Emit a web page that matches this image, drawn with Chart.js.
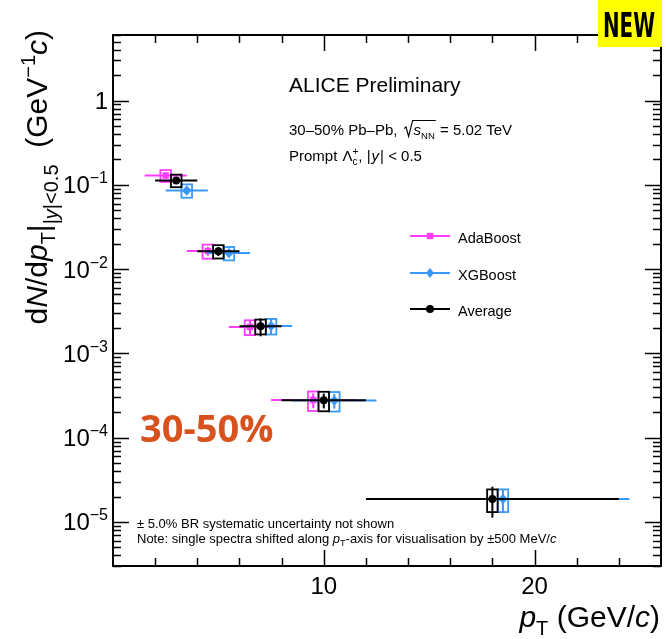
<!DOCTYPE html>
<html>
<head>
<meta charset="utf-8">
<script src="https://cdn.jsdelivr.net/npm/chart.js@4"></script>
<style>
  html, body { margin: 0; padding: 0; background: #fff; }
  canvas { display: block; }
</style>
</head>
<body>
<canvas id="spectre" width="666" height="639"></canvas>
<script>
// bins en pT (GeV/c)
const binLow = [2, 4, 6, 8, 12];
const binHigh = [4, 6, 8, 12, 24];

// dN/dpT
const adaBoost = [0.129, 0.0164, 0.00206, 2.80e-4, null];
const xgBoost = [0.0858, 0.0155, 0.00212, 2.76e-4, 1.87e-5];
const average = [0.113, 0.0163, 0.0021, 2.78e-4, 1.87e-5];

// incertitudes relatives (syst. = boites, stat. = barres)
const adaSys = [0.16, 0.19, 0.20, 0.26, null];
const xgbSys = [0.18, 0.18, 0.21, 0.26, 0.30];
const avgSys = [0.17, 0.18, 0.20, 0.26, 0.30];
const adaStat = [0.09, 0.12, 0.20, 0.20, null];
const xgbStat = [0.12, 0.12, 0.22, 0.20, 0.32];
const avgStat = [0.09, 0.12, 0.24, 0.20, 0.40];

const seriesNames = ['AdaBoost', 'XGBoost', 'Average'];
const ptShifts = [-0.5, 0.5, 0];

const xMajorTicks = [10, 20];
const xTickLabels = ['10', '20'];
const yMajorTicks = [1, 1e-1, 1e-2, 1e-3, 1e-4, 1e-5];
const yTickExponents = ['', '\u22121', '\u22122', '\u22123', '\u22124', '\u22125'];

const couleurs = ['#ff3cff', '#3899fb', '#000000'];

function fnt(size, style) {
  return (style || '') + ' ' + size + 'px "Liberation Sans", Arial, sans-serif';
}

function drawRuns(ctx, x, y, runs, align) {
  let w = 0;
  for (const r of runs) {
    ctx.font = fnt(r.s, r.f);
    if (!r.stack) w += ctx.measureText(r.t).width + (r.gap || 0);
  }
  let cx = align === 'right' ? x - w : (align === 'center' ? x - w / 2 : x);
  ctx.textAlign = 'left';
  ctx.textBaseline = 'alphabetic';
  for (const r of runs) {
    ctx.font = fnt(r.s, r.f);
    ctx.fillText(r.t, cx, y + (r.dy || 0));
    if (!r.stack) cx += ctx.measureText(r.t).width + (r.gap || 0);
  }
  return cx;
}

function points(vals, shift) {
  const pts = [];
  vals.forEach((v, i) => {
    if (v != null) pts.push({ x: (binLow[i] + binHigh[i]) / 2 + shift, y: v });
  });
  return pts;
}

function marqueur(ctx, style, x, y, r, col) {
  ctx.fillStyle = col;
  ctx.beginPath();
  if (style === 'rect') {
    const s = r * Math.SQRT1_2;
    ctx.rect(x - s, y - s, 2 * s, 2 * s);
  } else if (style === 'rectRot') {
    ctx.moveTo(x, y - r); ctx.lineTo(x + r * 0.8, y); ctx.lineTo(x, y + r); ctx.lineTo(x - r * 0.8, y);
    ctx.closePath();
  } else {
    ctx.arc(x, y, r, 0, Math.PI * 2);
  }
  ctx.fill();
}

const erreurs = {
  id: 'erreurs',
  beforeDatasetDraw(chart, args) {
    const ds = chart.data.datasets[args.index];
    const ctx = chart.ctx, xs = chart.scales.x, ys = chart.scales.y, a = chart.chartArea;
    ctx.save();
    ctx.beginPath();
    ctx.rect(a.left, a.top, a.right - a.left, a.bottom - a.top);
    ctx.clip();
    ctx.strokeStyle = ds.borderColor;
    ds.vals.forEach((v, i) => {
      if (v == null) return;
      const c = (binLow[i] + binHigh[i]) / 2 + ds.shift;
      const py = ys.getPixelForValue(v);
      const px = xs.getPixelForValue(c);
      // largeur du bin
      ctx.lineWidth = 2;
      ctx.beginPath();
      ctx.moveTo(xs.getPixelForValue(binLow[i] + ds.shift), py);
      ctx.lineTo(xs.getPixelForValue(binHigh[i] + ds.shift), py);
      ctx.stroke();
      // stat
      ctx.beginPath();
      ctx.moveTo(px, ys.getPixelForValue(v * (1 + ds.stat[i])));
      ctx.lineTo(px, ys.getPixelForValue(v * (1 - ds.stat[i])));
      ctx.stroke();
      // syst
      const x0 = xs.getPixelForValue(c - 0.25), x1 = xs.getPixelForValue(c + 0.25);
      const y0 = ys.getPixelForValue(v * (1 + ds.sys[i])), y1 = ys.getPixelForValue(v * (1 - ds.sys[i]));
      ctx.lineWidth = 1.8;
      ctx.strokeRect(x0, y0, x1 - x0, y1 - y0);
    });
    ctx.restore();
  },
  afterDraw(chart) {
    const ctx = chart.ctx, xs = chart.scales.x, ys = chart.scales.y, a = chart.chartArea;
    ctx.save();
    ctx.fillStyle = '#000';
    ctx.strokeStyle = '#000';

    // ticks x (bas et haut)
    ctx.lineWidth = 1.5;
    for (let v = 2; v < xs.max; v += 2) {
      const px = Math.round(xs.getPixelForValue(v)) + 0.5;
      const len = v % 10 === 0 ? 16 : 8;
      ctx.beginPath();
      ctx.moveTo(px, a.bottom); ctx.lineTo(px, a.bottom - len);
      ctx.moveTo(px, a.top); ctx.lineTo(px, a.top + len);
      ctx.stroke();
    }
    // ticks y log (gauche et droite)
    for (let e = -6; e <= 0; e++) {
      for (let k = 1; k <= 9; k++) {
        const v = k * Math.pow(10, e);
        if (v < ys.min || v > ys.max) continue;
        const py = Math.round(ys.getPixelForValue(v)) + 0.5;
        const len = k === 1 ? 16 : 8;
        ctx.beginPath();
        ctx.moveTo(a.left, py); ctx.lineTo(a.left + len, py);
        ctx.moveTo(a.right, py); ctx.lineTo(a.right - len, py);
        ctx.stroke();
      }
    }
    // cadre
    ctx.lineWidth = 2;
    ctx.strokeRect(a.left, a.top, a.right - a.left, a.bottom - a.top);

    // labels x
    ctx.font = fnt(24);
    ctx.textAlign = 'center';
    xMajorTicks.forEach((v, i) => ctx.fillText(xTickLabels[i], xs.getPixelForValue(v), 594));
    // labels y
    yMajorTicks.forEach((v, i) => {
      const py = ys.getPixelForValue(v);
      if (yTickExponents[i] === '') {
        drawRuns(ctx, 108, py + 8.5, [{ t: '1', s: 24 }], 'right');
      } else {
        drawRuns(ctx, 108, py + 8.5, [{ t: '10', s: 24 }, { t: yTickExponents[i], s: 16, dy: -10 }], 'right');
      }
    });

    // titre x
    drawRuns(ctx, 660, 627, [
      { t: 'p', s: 30, f: 'italic' }, { t: 'T', s: 20, dy: 8 },
      { t: ' (GeV/', s: 30 }, { t: 'c', s: 30, f: 'italic' }, { t: ')', s: 30 }
    ], 'right');

    // titre y
    ctx.save();
    ctx.translate(47, 0);
    ctx.rotate(-Math.PI / 2);
    drawRuns(ctx, -30, 0, [
      { t: 'd', s: 30 }, { t: 'N', s: 30, f: 'italic' }, { t: '/d', s: 30 }, { t: 'p', s: 30, f: 'italic' },
      { t: 'T', s: 20, dy: 8 }, { t: '|', s: 30, dy: 2 },
      { t: '|', s: 20, dy: 11 }, { t: 'y', s: 20, f: 'italic', dy: 11 }, { t: '|<0.5', s: 20, dy: 11 },
      { t: '  (GeV', s: 30 }, { t: '\u22121', s: 20, dy: -12 }, { t: 'c', s: 30, f: 'italic' }, { t: ')', s: 30 }
    ], 'right');
    ctx.restore();

    // textes
    drawRuns(ctx, 289, 91.5, [{ t: 'ALICE Preliminary', s: 21 }], 'left');
    const yb = 134.5;
    const rad = drawRuns(ctx, 289, yb, [{ t: '30\u201350% Pb\u2013Pb, ', s: 15, gap: 2 }], 'left');
    const fin = drawRuns(ctx, rad + 10, yb, [{ t: 's', s: 15, f: 'italic' }, { t: 'NN', s: 9.5, dy: 4 }], 'left');
    ctx.lineWidth = 1.1;
    ctx.beginPath();
    ctx.moveTo(rad + 0.5, yb - 6); ctx.lineTo(rad + 2.5, yb - 7.5); ctx.lineTo(rad + 5, yb + 2);
    ctx.lineTo(rad + 9, yb - 14); ctx.lineTo(fin + 1, yb - 14);
    ctx.stroke();
    drawRuns(ctx, fin + 1, yb, [{ t: ' = 5.02 TeV', s: 15 }], 'left');

    drawRuns(ctx, 289, 160.7, [
      { t: 'Prompt ', s: 15, gap: 1 }, { t: '\u039B', s: 15 }, { t: 'c', s: 10, dy: 4, stack: true }, { t: '+', s: 10, dy: -6 },
      { t: ', |', s: 15, gap: 1 }, { t: 'y', s: 15, f: 'italic', gap: 1 }, { t: '| < 0.5', s: 15 }
    ], 'left');

    drawRuns(ctx, 137, 528, [{ t: '\u00B1 5.0% BR systematic uncertainty not shown', s: 13 }], 'left');
    drawRuns(ctx, 137, 543, [
      { t: 'Note: single spectra shifted along ', s: 13 }, { t: 'p', s: 13, f: 'italic' }, { t: 'T', s: 9, dy: 3 },
      { t: '-axis for visualisation by \u00B1500 MeV/', s: 13 }, { t: 'c', s: 13, f: 'italic' }
    ], 'left');

    // légende
    const legY = [236, 273, 309];
    chart.data.datasets.forEach((ds, i) => {
      ctx.strokeStyle = ds.borderColor;
      ctx.lineWidth = 2;
      ctx.beginPath();
      ctx.moveTo(410, legY[i]); ctx.lineTo(450, legY[i]);
      ctx.stroke();
      marqueur(ctx, ds.pointStyle, 430, legY[i], ds.pointRadius, ds.borderColor);
      ctx.fillStyle = '#000';
      drawRuns(ctx, 458, legY[i] + 6.5, [{ t: ds.label, s: 14.5 }], 'left');
    });

    // centralité
    ctx.fillStyle = '#d8521d';
    ctx.font = 'bold 38px "Open Sans", "Liberation Sans", sans-serif';
    ctx.textAlign = 'left';
    ctx.fillText('30-50%', 140, 442);

    // NEW
    ctx.fillStyle = '#ffff00';
    ctx.fillRect(598, 0, 64, 47);
    ctx.fillStyle = '#000';
    ctx.font = 'bold 34px "DejaVu Sans", sans-serif';
    const wNew = ctx.measureText('NEW').width;
    ctx.save();
    ctx.translate(629, 37);
    ctx.scale(52 / wNew, 1);
    ctx.textAlign = 'center';
    ctx.fillText('NEW', 0, 0);
    ctx.restore();

    ctx.restore();
  }
};

const styles = ['rect', 'rectRot', 'circle'];
const rayons = [4.5, 5, 4];
const valeurs = [adaBoost, xgBoost, average];
const sysAll = [adaSys, xgbSys, avgSys];
const statAll = [adaStat, xgbStat, avgStat];

const datasets = seriesNames.map((nom, i) => ({
  label: nom,
  data: points(valeurs[i], ptShifts[i]),
  vals: valeurs[i],
  sys: sysAll[i],
  stat: statAll[i],
  shift: ptShifts[i],
  borderColor: couleurs[i],
  backgroundColor: couleurs[i],
  pointStyle: styles[i],
  pointRadius: rayons[i],
  pointBorderWidth: 0,
  order: 2 - i
}));

new Chart(document.getElementById('spectre').getContext('2d'), {
  type: 'scatter',
  data: { datasets },
  options: {
    responsive: false,
    animation: false,
    layout: { padding: { left: 113, top: 35, right: 4, bottom: 73 } },
    scales: {
      x: { type: 'linear', min: 0, max: 26, display: false },
      y: { type: 'logarithmic', min: 3e-6, max: 6, display: false }
    },
    plugins: { legend: { display: false }, tooltip: { enabled: false } }
  },
  plugins: [erreurs]
});
</script>
</body>
</html>
